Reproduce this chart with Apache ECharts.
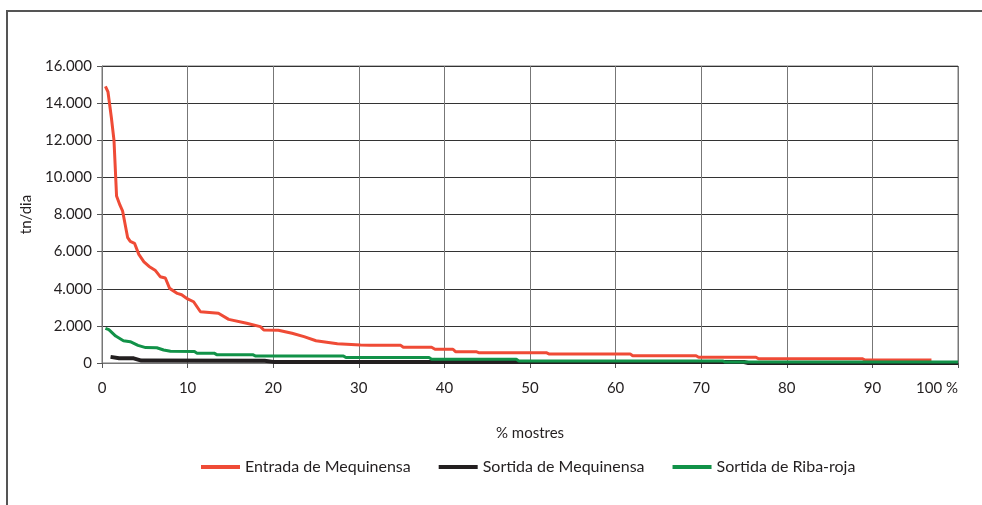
<!DOCTYPE html>
<html>
<head>
<meta charset="utf-8">
<script src="https://cdn.jsdelivr.net/npm/echarts@6/dist/echarts.min.js"></script>
<style>
  html, body { margin: 0; padding: 0; background: #fff; }
  #wrap { position: relative; width: 982px; height: 505px; }
  #chart { position: absolute; left: 0; top: 0; width: 982px; height: 505px; }
  #frame { position: absolute; left: 6px; top: 10px; right: -4px; bottom: -4px;
           border-top: 2px solid #555; border-left: 2px solid #555; pointer-events: none; }
</style>
</head>
<body>
<div id="wrap">
  <div id="chart"></div>
  <div id="frame"></div>
</div>
<script>
// % mostres / tn/dia
var entradaPct = [0.4, 0.7, 1.1, 1.4, 1.7, 2.1, 2.4, 3.0, 3.3, 3.8, 4.3, 4.9, 5.5, 6.2, 6.8, 7.4, 7.9, 8.8, 9.3, 10.0,
  10.7, 11.5, 13.6, 14.8, 16.9, 18.5, 18.9, 20.6, 22.2, 23.6, 25.0, 27.5, 30.2, 31.3, 34.9, 35.2, 38.5, 38.9, 41.0, 41.3,
  43.7, 44.0, 51.9, 52.2, 61.7, 62.0, 69.4, 69.7, 76.4, 76.7, 88.8, 89.1, 96.9]
var entradaVal = [14900, 14600, 13200, 12000, 9000, 8500, 8200, 6750, 6550, 6450, 5850, 5450, 5200, 5000, 4650, 4580, 4020, 3750, 3680, 3450,
  3300, 2760, 2680, 2350, 2140, 1960, 1780, 1760, 1600, 1420, 1200, 1040, 970, 950, 950, 845, 845, 740, 740, 610,
  610, 555, 555, 490, 490, 390, 390, 310, 310, 230, 230, 165, 160]

var sortidaMeqPct = [1.0, 2.0, 3.7, 4.6, 19.0, 20.0, 75.0, 75.5, 100]
var sortidaMeqVal = [330, 260, 250, 130, 120, 60, 50, 0, 0]

var ribaPct = [0.4, 0.8, 1.6, 2.5, 3.3, 4.2, 5.1, 6.4, 7.2, 8.0, 10.8, 11.1, 13.1, 13.4, 17.6, 17.9, 28.2, 28.5, 38.2, 38.5,
  48.4, 48.7, 72.5, 72.8, 100]
var ribaVal = [1870, 1800, 1450, 1200, 1150, 950, 830, 820, 700, 630, 620, 530, 530, 450, 450, 380, 380, 290, 290, 200,
  200, 110, 110, 50, 50]

var seriesNames = ['Entrada de Mequinensa', 'Sortida de Mequinensa', 'Sortida de Riba-roja']
var seriesColors = ['#ef4b36', '#231f20', '#119248']

function zip(xs, ys) {
  return xs.map(function (x, i) { return [x, ys[i]] })
}

var txt = '#231f20'
var font = 'Lato, "Open Sans", sans-serif'

var chart = echarts.init(document.getElementById('chart'))
chart.setOption({
  animation: false,
  textStyle: { fontFamily: font },
  grid: {
    left: 102, right: 24, top: 66, bottom: 142,
    show: true, borderColor: '#777', borderWidth: 1,
    outerBoundsMode: 'none'
  },
  legend: {
    data: seriesNames,
    left: 196,
    top: 454,
    icon: 'rect',
    itemWidth: 39,
    itemHeight: 4,
    itemGap: 28,
    textStyle: { color: txt, fontSize: 16, fontFamily: font }
  },
  xAxis: {
    type: 'value',
    min: 0, max: 100, interval: 10,
    name: '% mostres',
    nameLocation: 'middle',
    nameGap: 63,
    nameTextStyle: { color: txt, fontSize: 15, fontFamily: font },
    axisLine: { lineStyle: { color: '#777', width: 1 } },
    axisTick: { show: true, length: 5, lineStyle: { color: '#555' } },
    axisLabel: {
      color: txt, fontSize: 15, margin: 18, fontFamily: font,
      alignMaxLabel: 'right',
      formatter: function (v) { return v === 100 ? '100 %' : String(v) }
    },
    splitLine: { show: true, lineStyle: { color: '#777', width: 1 } }
  },
  yAxis: {
    type: 'value',
    min: 0, max: 16000, interval: 2000,
    name: 'tn/dia',
    nameLocation: 'middle',
    nameGap: 64,
    nameTextStyle: { color: txt, fontSize: 15, fontFamily: font },
    axisLine: { show: true, lineStyle: { color: '#777', width: 1 } },
    axisTick: { show: true, length: 5, lineStyle: { color: '#555' } },
    axisLabel: {
      color: txt, fontSize: 15, margin: 10, fontFamily: font,
      formatter: function (v) { return v === 0 ? '0' : (v / 1000).toFixed(3) }
    },
    splitLine: { show: true, lineStyle: { color: '#333', width: 1 } }
  },
  series: [{
    name: seriesNames[0],
    type: 'line',
    data: zip(entradaPct, entradaVal),
    showSymbol: false,
    color: seriesColors[0],
    lineStyle: { color: seriesColors[0], width: 3 }
  }, {
    name: seriesNames[1],
    type: 'line',
    data: zip(sortidaMeqPct, sortidaMeqVal),
    showSymbol: false,
    color: seriesColors[1],
    lineStyle: { color: seriesColors[1], width: 4 }
  }, {
    name: seriesNames[2],
    type: 'line',
    data: zip(ribaPct, ribaVal),
    showSymbol: false,
    color: seriesColors[2],
    lineStyle: { color: seriesColors[2], width: 3 }
  }]
})
</script>
</body>
</html>
